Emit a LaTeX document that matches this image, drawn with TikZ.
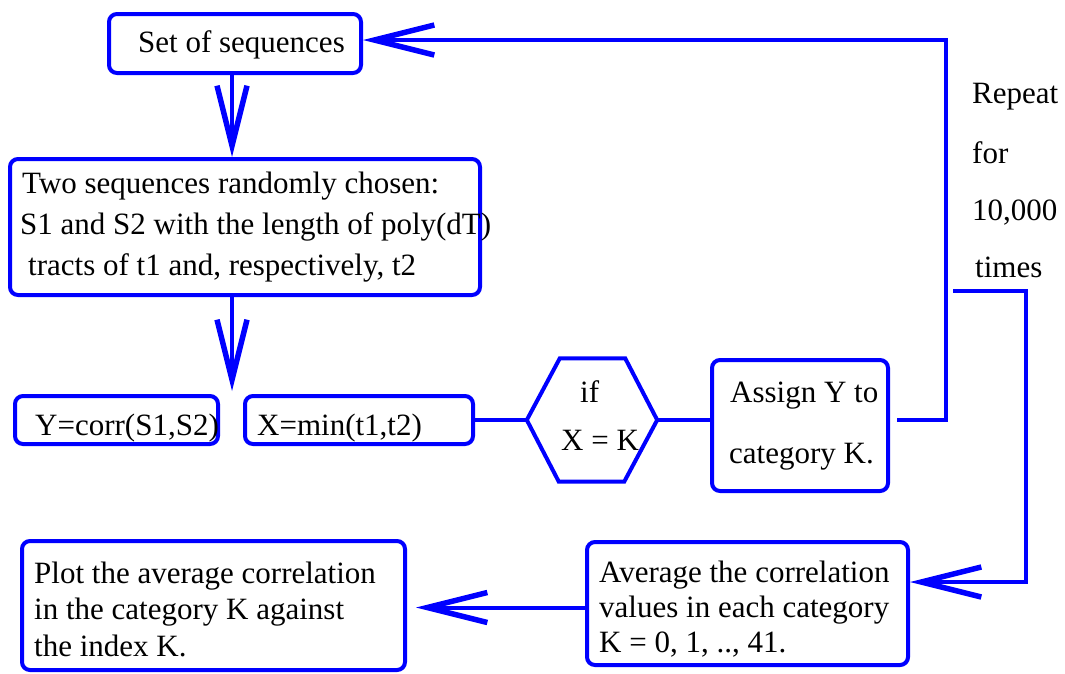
\documentclass[tikz,border=0pt]{standalone}
\usepackage{fontspec}
\setmainfont{Liberation Serif}
\usetikzlibrary{arrows.meta,calc}

\definecolor{flowblue}{RGB}{0,0,255}

\tikzset{
  box/.style={draw=flowblue, line width=4pt, rounded corners=8pt,
              inner sep=0pt, fill=white},
  wire/.style={draw=flowblue, line width=4pt},
  arr/.style={wire, -{Straight Barb[length=60pt,width=30pt,line width=5.5pt,line join=miter,line cap=butt]}},
  txt/.style={anchor=base west, inner sep=0pt, text=black,
              font=\fontsize{31}{41}\selectfont},
}

\begin{document}
\begin{tikzpicture}[x=1pt,y=-1pt]
  \useasboundingbox (0,0) rectangle (1065,673);

  % boxes
  \node[box, minimum width=252pt, minimum height=59pt]  (set)    at (235,43.5)  {};
  \node[box, minimum width=470pt, minimum height=136pt] (two)    at (245,227)   {};
  \node[box, minimum width=203pt, minimum height=48pt]  (ybox)   at (116.5,420) {};
  \node[box, minimum width=228pt, minimum height=48pt]  (xbox)   at (359,420)   {};
  \node[box, minimum width=176pt, minimum height=131pt] (assign) at (800,425.5) {};
  \node[box, minimum width=321pt, minimum height=123pt] (avg)    at (747.5,603.5) {};
  \node[box, minimum width=383pt, minimum height=129pt] (plot)   at (213.5,605.5) {};

  % decision hexagon
  \node[minimum width=130pt, minimum height=123pt, inner sep=0pt] (hex) at (592,420) {};
  \draw[wire, line join=miter]
    (hex.west) -- ($(hex.north west)+(33,0)$) -- ($(hex.north east)+(-32,0)$)
    -- (hex.east) -- ($(hex.south east)+(-33,0)$) -- ($(hex.south west)+(32,0)$)
    -- cycle;

  % texts
  \node[txt] (t0)  at (138,52)  {Set of sequences};
  \node[txt] (t1a) at (22,193)  {Two sequences randomly chosen:};
  \node[txt] (t1b) at (20,234)  {S1 and S2 with the length of poly(dT)};
  \node[txt] (t1c) at (28,275)  {tracts of t1 and, respectively, t2};
  \node[txt] (ty)  at (35,435)  {Y=corr(S1,S2)};
  \node[txt] (tx)  at (257,435) {X=min(t1,t2)};
  \node[txt] (th1) at (580,402) {if};
  \node[txt] (th2) at (561,450) {X = K};
  \node[txt] (ta1) at (730,402) {Assign Y to};
  \node[txt] (ta2) at (729,463) {category K.};
  \node[txt] (tv1) at (599,582) {Average the correlation};
  \node[txt] (tv2) at (599,617) {values in each category};
  \node[txt] (tv3) at (599,652) {K = 0, 1, .., 41.};
  \node[txt] (tp1) at (34,583)  {Plot the average correlation};
  \node[txt] (tp2) at (34,619)  {in the category K against};
  \node[txt] (tp3) at (34,656)  {the index K.};
  \node[txt] (tr1) at (972,103) {Repeat};
  \node[txt] (tr2) at (972,163) {for};
  \node[txt] (tr3) at (972,220) {10,000};
  \node[txt] (tr4) at (975,277) {times};

  % bend points, entry points and free ends
  \coordinate (split) at (232,391);
  \coordinate (loopA) at (946,0);
  \coordinate (loopB) at (1026,0);
  \coordinate (outA)  at ([xshift=7pt]hex.east -| assign.east);
  \coordinate (outB)  at (953,291);
  \coordinate (inSet) at ([yshift=3.5pt]set.east);
  \coordinate (inAvg) at ([yshift=21.5pt]avg.east);
  \coordinate (outAvg) at ([yshift=-4pt]avg.west);

  % connectors
  \draw[arr] ([xshift=-3pt]set.south) -- ([xshift=-3pt]set.south |- two.north);
  \draw[arr] ([xshift=-13pt]two.south) -- (split);
  \draw[wire] (xbox.east) -- (hex.west);
  \draw[wire] (hex.east) -- (hex.east -| assign.west);
  \draw[arr, line join=miter]
    (outA) -- (loopA |- outA) -- (loopA |- inSet) -- (inSet);
  \draw[arr, line join=miter]
    (outB) -- (loopB |- outB) -- (loopB |- inAvg) -- (inAvg);
  \draw[arr, shorten >=9pt] (outAvg) -- (outAvg -| plot.east);
\end{tikzpicture}
\end{document}
